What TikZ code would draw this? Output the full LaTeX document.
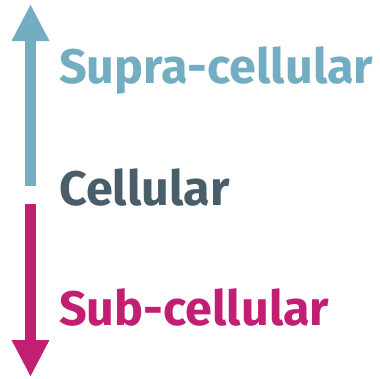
\documentclass[tikz,border=0pt]{standalone}
\usepackage{fontspec}
\setmainfont{Fira Sans}
\usetikzlibrary{arrows.meta,positioning}
\definecolor{cSupra}{RGB}{114,173,193}
\definecolor{cCell} {RGB}{74,94,106}
\definecolor{cSub}  {RGB}{194,31,115}
\tikzset{
  level/.style={anchor=base west,inner sep=0pt,font=\fontsize{48.5}{52}\selectfont\bfseries},
  scale arrow/.style={line width=11pt,-{Triangle[length=37pt,width=35pt]}},
}
\begin{document}
\begin{tikzpicture}[x=1pt,y=-1pt]
  \useasboundingbox (0,0) rectangle (380,378);
  \node[level,text=cSupra] (supra) at (59,83)  {Supra-cellular};
  \node[level,text=cCell]  (cell)  at (59,205) {Cellular};
  \node[level,text=cSub]   (sub)   at (59,325) {Sub-cellular};

  % up and down from the cellular level
  \coordinate (upfrom)   at (30.5,186);
  \coordinate (upto)     at (30.5,4);
  \coordinate (downfrom) at (30.5,204);
  \coordinate (downto)   at (30.5,377);
  \draw[scale arrow,cSupra] (upfrom) -- (upto);
  \draw[scale arrow,cSub]   (downfrom) -- (downto);
\end{tikzpicture}
\end{document}
